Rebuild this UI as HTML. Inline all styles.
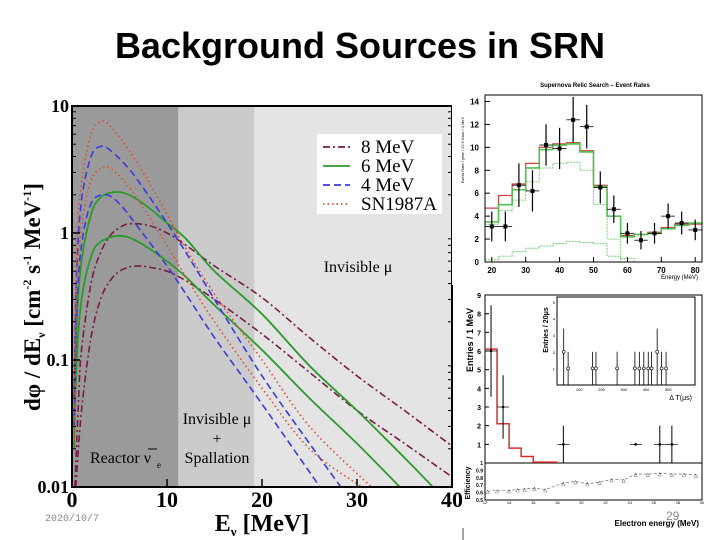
<!DOCTYPE html>
<html><head><meta charset="utf-8"><style>
body{margin:0;background:#fff;width:720px;height:540px;overflow:hidden;font-family:"Liberation Sans",sans-serif}
svg{position:absolute;left:0;top:0}
</style></head><body>
<svg width="720" height="540">
<text x="360" y="58" text-anchor="middle" font-size="36" font-weight="bold" font-family="Liberation Sans, sans-serif">Background Sources in SRN</text>
<g id="left"></g>
<g id="rtop"></g>
<g id="rbot"></g>
<text x="45" y="521" font-size="10" fill="#888" font-family="Liberation Mono, monospace">2020/10/7</text>
<text x="666" y="520" font-size="12" fill="#888">29</text>
</svg>
<script>
const NS="http://www.w3.org/2000/svg";
function mk(p,t,a,txt){const e=document.createElementNS(NS,t);for(const k in a)e.setAttribute(k,a[k]);if(txt!==undefined)e.textContent=txt;p.appendChild(e);return e;}
// ---- left chart data ----
const bandEdges=[0,11.2,19.2,40];
const bandColors=["#9a9a9a","#cbcbcb","#e4e4e4"];
const e8a=[0.3,0.7,1,2,3,4,5,6,8,10,12,15,20,25,30,35,40];
const v8a=[0.01,0.05,0.12,0.4,0.7,0.95,1.1,1.18,1.15,1.0,0.8,0.55,0.31,0.15,0.075,0.04,0.021];
const e8b=[0.4,1,2,3,4,5,6,7,8,10,12,15,20,25,30,35,40];
const v8b=[0.01,0.04,0.15,0.3,0.42,0.5,0.54,0.55,0.54,0.5,0.42,0.3,0.16,0.08,0.04,0.022,0.012];
const e6a=[0.2,0.5,1,2,3,4.5,6,8,10,12,15,20,25,30,35,38];
const v6a=[0.03,0.2,0.6,1.4,1.9,2.1,2.0,1.6,1.2,0.9,0.5,0.23,0.09,0.04,0.017,0.01];
const e6b=[0.2,0.5,1,2,3,5,7,10,12,15,20,25,30,34.5];
const v6b=[0.02,0.1,0.3,0.65,0.85,0.95,0.85,0.6,0.45,0.27,0.12,0.05,0.022,0.01];
const e4a=[0.2,0.5,1,2,3,4,6,8,10,12,15,20,25,28.3];
const v4a=[0.05,0.5,1.8,4,4.8,4.5,3.2,2,1.2,0.7,0.3,0.075,0.022,0.01];
const e4b=[0.2,0.5,1,2,3.5,5,7,10,12,15,20,26.1];
const v4b=[0.03,0.25,0.8,1.7,2.0,1.7,1.1,0.55,0.33,0.15,0.045,0.01];
const eSa=[0.2,0.5,1,2,3,4,6,8,10,12,15,20,25,31.5];
const vSa=[0.05,0.8,2.5,6,7.5,7,4.5,2.6,1.4,0.75,0.33,0.1,0.03,0.01];
const eSb=[0.2,0.5,1,2,3.5,5,7,10,12,15,20,25,30.5];
const vSb=[0.02,0.35,1.1,2.6,3.3,2.8,1.8,0.8,0.45,0.2,0.06,0.02,0.01];
const yTicks=[0.01,0.1,1,10];
const yTickLabels=["0.01","0.1","1","10"];
const xTicks=[0,10,20,30,40];
const legendLabels=["8 MeV","6 MeV","4 MeV","SN1987A"];
// ---- right top data ----
const rtCenters=[20,24,28,32,36,40,44,48,52,56,60,64,68,72,76,80];
const rtData=[3.1,3.1,6.7,6.2,10.2,9.9,12.4,11.8,6.5,4.6,2.5,1.9,2.5,4.0,3.4,2.8];
const rtErr=[1.3,1.3,1.9,1.8,1.8,1.8,2.0,1.9,1.4,1.2,0.9,0.8,0.9,1.1,1.0,0.9];
const rtRed=[4.7,5.8,6.8,8.6,10.0,10.3,10.4,9.7,6.7,4.0,2.3,2.4,2.6,3.0,3.3,3.3];
const rtGreen=[3.5,5.0,6.3,8.2,9.8,10.2,10.3,9.6,6.6,4.0,2.2,2.4,2.5,2.9,3.2,3.4];
const rtGreen2=[0.2,0.5,0.9,1.2,1.4,1.6,1.8,1.7,1.6,0.5,0,0,0,0,0,0];
const rtGreen3=[3.3,4.5,5.4,7.0,8.2,8.6,8.7,8.0,5.0,2.0,0.3,0,0,0,0,0];
const rtYTicks=[0,2,4,6,8,10,12,14];
const rtXTicks=[20,30,40,50,60,70,80];
// ---- right bottom data ----
const rbX=[12.5,13.5,18.5,24.5,26.5,27.5];
const rbY=[6,3,1,1,1,1];
const rbErr=[2.45,1.7,1,0,1,1];
const rbHistEdges=[12,13,14,15,16,18];
const rbHist=[6.1,2.1,0.8,0.35,0.05];
const rbYTicks=[1,2,3,4,5,6,7,8,9];
const rbXTicks=[12,14,16,18,20,22,24,26,28,30];
const effX=[12.2,13,14,14.7,15.3,16.1,17,18.5,19.5,20.5,21.5,22.5,23.5,24.5,25.5,26.5,27.5,28.5,29.5];
const effY=[0.62,0.63,0.63,0.64,0.65,0.66,0.64,0.73,0.75,0.72,0.74,0.78,0.77,0.85,0.85,0.86,0.85,0.85,0.84];
const inX=[30,50,160,175,270,350,370,390,410,425,450,470,490];
const inY=[2,1,1,1,1,1,1,1,1,1,2,1,1];

// ===== LEFT =====
(function(){
const g=document.getElementById('left');
const X0=72,X1=452,YT=106,YB=487;
const xs=e=>X0+(e/40)*(X1-X0);
const ys=v=>YB-(Math.log10(v)+2)/3*(YB-YT);
for(let i=0;i<3;i++){const r=mk(g,'rect',{x:xs(bandEdges[i]),y:YT,width:xs(bandEdges[i+1])-xs(bandEdges[i]),height:YB-YT,fill:bandColors[i]});
}
const clip=mk(g,'clipPath',{id:'lc'});mk(clip,'rect',{x:X0,y:YT,width:X1-X0,height:YB-YT});
function curve(E,V,col,dash,w){
 const p=E.map((e,i)=>[xs(e),ys(V[i])]);
 let d='M'+p[0][0]+','+p[0][1];
 for(let i=0;i<p.length-1;i++){const p0=p[i-1]||p[i],p1=p[i],p2=p[i+1],p3=p[i+2]||p2;
  d+=' C'+(p1[0]+(p2[0]-p0[0])/6)+','+(p1[1]+(p2[1]-p0[1])/6)+' '+(p2[0]-(p3[0]-p1[0])/6)+','+(p2[1]-(p3[1]-p1[1])/6)+' '+p2[0]+','+p2[1];}
 const el=mk(g,'path',{d:d,fill:'none',stroke:col,'stroke-width':w,'stroke-dasharray':dash,'clip-path':'url(#lc)'});
 return el;}
const S=[[e8a,v8a,'#7a1a4a','7,3,2,3',1.6,'curve-8mev-upper'],[e8b,v8b,'#7a1a4a','7,3,2,3',1.6,'curve-8mev-lower'],
[e6a,v6a,'#2a9a2a','',1.8,'curve-6mev-upper'],[e6b,v6b,'#2a9a2a','',1.8,'curve-6mev-lower'],
[e4a,v4a,'#3a3ae0','7,4',1.6,'curve-4mev-upper'],[e4b,v4b,'#3a3ae0','7,4',1.6,'curve-4mev-lower'],
[eSa,vSa,'#e04a30','1.5,3',1.6,'curve-sn1987a-upper'],[eSb,vSb,'#e04a30','1.5,3',1.6,'curve-sn1987a-lower']];
S.forEach(s=>{const el=curve(s[0],s[1],s[2],s[3],s[4]);});
mk(g,'rect',{x:X0,y:YT,width:X1-X0,height:YB-YT,fill:'none',stroke:'#000','stroke-width':2});
const F='Liberation Serif, serif';
yTicks.forEach((t,i)=>{const y=ys(t);mk(g,'line',{x1:X0,x2:X0+8,y1:y,y2:y,stroke:'#000','stroke-width':1.5});
 const tl=mk(g,'text',{x:X0-3,y:y+6,'text-anchor':'end','font-size':18,'font-weight':'bold','font-family':F},yTickLabels[i]);
 
 if(i<3)for(let m=2;m<10;m++){const ym=ys(t*m);mk(g,'line',{x1:X0,x2:X0+4,y1:ym,y2:ym,stroke:'#000'});mk(g,'line',{x1:X1,x2:X1-4,y1:ym,y2:ym,stroke:'#000'});}});
xTicks.forEach(t=>{const x=xs(t);mk(g,'line',{x1:x,x2:x,y1:YB,y2:YB-8,stroke:'#000','stroke-width':1.5});
 const tl=mk(g,'text',{x:x,y:YB+20,'text-anchor':'middle','font-size':22,'font-weight':'bold','font-family':F},String(t));
 });
const xt=mk(g,'text',{x:262,y:531,'text-anchor':'middle','font-size':24,'font-weight':'bold','font-family':F},'E');mk(xt,'tspan',{'font-size':13,dy:5},'ν');mk(xt,'tspan',{dy:-5},'  [MeV]');

const yt=mk(g,'text',{transform:'translate(40,297) rotate(-90)','text-anchor':'middle','font-size':23,'font-weight':'bold','font-family':F},'dφ / dE');
mk(yt,'tspan',{'font-size':12,dy:5},'ν');mk(yt,'tspan',{dy:-5},' [cm');mk(yt,'tspan',{'font-size':12,dy:-9},'-2');mk(yt,'tspan',{dy:9},' s');mk(yt,'tspan',{'font-size':12,dy:-9},'-1');mk(yt,'tspan',{dy:9},' MeV');mk(yt,'tspan',{'font-size':12,dy:-9},'-1');mk(yt,'tspan',{dy:9},']');

const lg=mk(g,'g',{});
mk(lg,'rect',{x:317,y:134,width:125,height:80,fill:'#fff'});
const lsty=[['#7a1a4a','7,3,2,3'],['#2a9a2a',''],['#3a3ae0','7,4'],['#e04a30','1.5,3']];
legendLabels.forEach((l,i)=>{const y=147+i*19;mk(lg,'line',{x1:323,x2:350,y1:y,y2:y,stroke:lsty[i][0],'stroke-width':1.8,'stroke-dasharray':lsty[i][1]});
 const t=mk(lg,'text',{x:361,y:y+6,'font-size':19,'font-family':F},l);});
mk(g,'text',{x:358,y:272,'text-anchor':'middle','font-size':16,'font-family':F},'Invisible μ');
mk(g,'text',{x:217,y:424,'text-anchor':'middle','font-size':16,'font-family':F},'Invisible μ');
mk(g,'text',{x:217,y:444,'text-anchor':'middle','font-size':16,'font-family':F},'+');
mk(g,'text',{x:217,y:463,'text-anchor':'middle','font-size':16,'font-family':F},'Spallation');
mk(g,'text',{x:90,y:463,'font-size':16,'font-family':F},'Reactor ν');mk(g,'line',{x1:148,x2:157,y1:449,y2:449,stroke:'#000'});mk(g,'text',{x:157,y:468,'font-size':9,'font-family':F},'e');
})();

// ===== RIGHT TOP =====
(function(){
const g=document.getElementById('rtop');
mk(g,'rect',{x:452,y:75,width:268,height:210,fill:'#fff'});
const X0=485,X1=702,YT=95,YB=262;
const xs=e=>X0+(e-18)/(82-18)*(X1-X0);
const ys=v=>YB-v/15*(YB-YT+5);
mk(g,'text',{x:595,y:87,'text-anchor':'middle','font-size':6,'font-weight':'bold'},'Supernova Relic Search – Event Rates');
function hist(vals,col,dash,w,name){let d='';rtCenters.forEach((c,i)=>{const a=xs(c-2),b=xs(c+2),y=ys(vals[i]);d+=(i?'L':'M')+a+','+y+' L'+b+','+y+' ';});
 const el=mk(g,'path',{d:d,fill:'none',stroke:col,'stroke-width':w,'stroke-dasharray':dash});}
hist(rtGreen2,'#7ad07a','2,1',1,'hist-green-low');hist(rtGreen3,'#7ad07a','2,1',1,'hist-green-dotted');
hist(rtRed,'#d04040','',1.2,'hist-red');hist(rtGreen,'#50c050','',1.6,'hist-green');
rtCenters.forEach((c,i)=>{const x=xs(c),y=ys(rtData[i]);
 mk(g,'line',{x1:x,x2:x,y1:ys(rtData[i]-rtErr[i]),y2:ys(rtData[i]+rtErr[i]),stroke:'#000','stroke-width':1.2});
 mk(g,'line',{x1:xs(c-2),x2:xs(c+2),y1:y,y2:y,stroke:'#000','stroke-width':0.8});
 const p=mk(g,'rect',{x:x-2,y:y-2,width:4,height:4,fill:'#000'});});
mk(g,'rect',{x:X0,y:YT,width:X1-X0,height:YB-YT,fill:'none',stroke:'#000','stroke-width':1});
rtYTicks.forEach(t=>{const y=ys(t);mk(g,'line',{x1:X0,x2:X0+5,y1:y,y2:y,stroke:'#000'});mk(g,'text',{x:X0-6,y:y+3,'text-anchor':'end','font-size':8,'font-weight':'bold'},String(t));});
rtXTicks.forEach(t=>{const x=xs(t);mk(g,'line',{x1:x,x2:x,y1:YB,y2:YB-5,stroke:'#000'});mk(g,'text',{x:x,y:YB+11,'text-anchor':'middle','font-size':8,'font-weight':'bold'},String(t));});
mk(g,'text',{x:698,y:279,'text-anchor':'end','font-size':6},'Energy (MeV)');
mk(g,'text',{transform:'translate(464,150) rotate(-90)','text-anchor':'middle','font-size':4},'Event Rate / year / 22.5 Kton / 4 MeV');
})();

// ===== RIGHT BOTTOM =====
(function(){
const g=document.getElementById('rbot');
const X0=485,X1=702,YT=295,YB=463,EB=500;
const xs=e=>X0+(e-12)/18*(X1-X0);
const ys=v=>YB-v/9*(YB-YT);
mk(g,'rect',{x:X0,y:YT,width:X1-X0,height:EB-YT,fill:'none',stroke:'#000'});
mk(g,'line',{x1:X0,x2:X1,y1:YB,y2:YB,stroke:'#000'});
let d='';rbHist.forEach((v,i)=>{d+=(i?'L':'M')+xs(rbHistEdges[i])+','+ys(v)+' L'+xs(rbHistEdges[i+1])+','+ys(v)+' ';});
const h=mk(g,'path',{d:d,fill:'none',stroke:'#d03030','stroke-width':1.5});
rbX.forEach((x0,i)=>{const x=xs(x0),y=ys(rbY[i]);
 mk(g,'line',{x1:x,x2:x,y1:ys(rbY[i]-rbErr[i]),y2:ys(rbY[i]+rbErr[i]),stroke:'#000'});
 mk(g,'line',{x1:xs(x0-0.5),x2:xs(x0+0.5),y1:y,y2:y,stroke:'#000','stroke-width':0.7});
 const p=mk(g,'circle',{cx:x,cy:y,r:1.3,fill:'#000'});});
rbYTicks.forEach(t=>{const y=ys(t);mk(g,'text',{x:X0-4,y:y+3,'text-anchor':'end','font-size':7,'font-weight':'bold'},String(t));mk(g,'line',{x1:X0,x2:X0+4,y1:y,y2:y,stroke:'#000'});});
mk(g,'text',{transform:'translate(473,340) rotate(-90)','text-anchor':'middle','font-size':9,'font-weight':'bold'},'Entries / 1 MeV');
const ey=v=>EB-(v-0.5)/0.5*(EB-YB);
let pd='';effX.forEach((x,i)=>{pd+=(i?'L':'M')+xs(x)+','+ey(effY[i])+' ';});
const ep=mk(g,'path',{d:pd,fill:'none',stroke:'#555','stroke-width':0.6,'stroke-dasharray':'3,2'});
effX.forEach((x,i)=>mk(g,'text',{x:xs(x),y:ey(effY[i])+2,'text-anchor':'middle','font-size':5},'△'));
['0.5','0.6','0.7','0.8','0.9','1'].forEach((t,i)=>mk(g,'text',{x:X0-2,y:ey(0.5+i*0.1)+2,'text-anchor':'end','font-size':5,'font-weight':'bold'},t));
mk(g,'text',{transform:'translate(470,483) rotate(-90)','text-anchor':'middle','font-size':7,'font-weight':'bold'},'Efficiency');
rbXTicks.forEach(t=>mk(g,'text',{x:xs(t),y:EB+4,'text-anchor':'middle','font-size':4},String(t)));
mk(g,'text',{x:699,y:526,'text-anchor':'end','font-size':8,'font-weight':'bold'},'Electron energy (MeV)');
// inset
const IX0=557,IX1=695,IT=297,IB=385;
const ix=v=>IX0+v/620*(IX1-IX0),iy=v=>IB-v/5.3*(IB-IT);
mk(g,'rect',{x:IX0,y:IT,width:IX1-IX0,height:IB-IT,fill:'none',stroke:'#000'});
inX.forEach((x0,i)=>{const x=ix(x0),y=iy(inY[i]);
 mk(g,'line',{x1:x,x2:x,y1:iy(0),y2:iy(inY[i]+(inY[i]>1?1.4:1)),stroke:'#000','stroke-width':0.8});
 const p=mk(g,'circle',{cx:x,cy:y,r:1.5,fill:'#fff',stroke:'#000','stroke-width':0.6});});
[100,200,300,400,500].forEach(t=>mk(g,'text',{x:ix(t),y:IB+6,'text-anchor':'middle','font-size':4},String(t)));
[1,2,3,4,5].forEach(t=>mk(g,'text',{x:IX0-2,y:iy(t)+2,'text-anchor':'end','font-size':4},String(t)));
mk(g,'text',{transform:'translate(548,330) rotate(-90)','text-anchor':'middle','font-size':7,'font-weight':'bold'},'Entries / 20μs');
mk(g,'text',{x:692,y:400,'text-anchor':'end','font-size':7},'Δ T(μs)');
mk(g,'line',{x1:463,x2:463,y1:528,y2:540,stroke:'#444'});
})();
</script>
</body></html>
